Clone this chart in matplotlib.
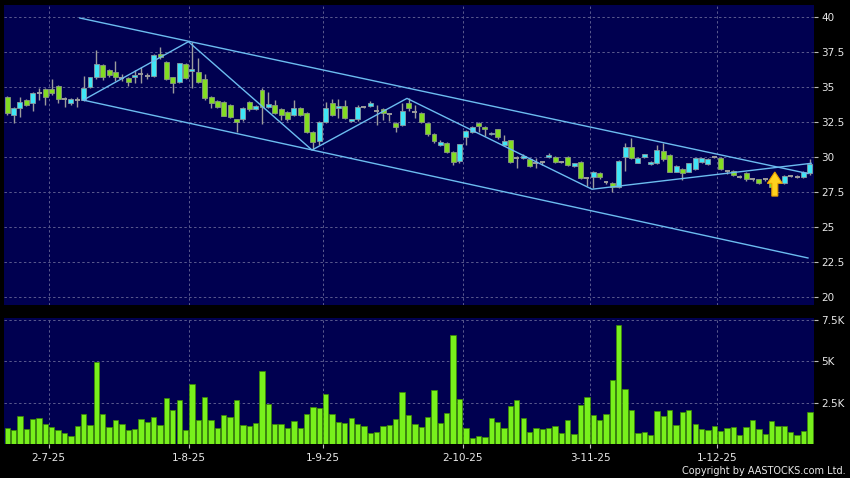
import matplotlib
matplotlib.use("Agg")
import matplotlib.pyplot as plt
from matplotlib.patches import Polygon
import numpy as np

# ---------------- data ----------------
opens = [34.26, 33.0, 33.48, 34.05, 33.84, 34.6, 34.84, 34.84, 35.1, 34.14,
         33.84, 34.1, 34.07, 34.98, 35.7, 36.55, 36.2, 36.05, 35.64, 35.67,
         35.71, 35.9, 35.8, 35.79, 37.33, 36.81, 35.7, 35.38, 36.62, 36.14,
         36.1, 35.6, 34.31, 34.02, 33.9, 33.72, 32.69, 32.69, 33.95, 33.42,
         34.77, 33.56, 33.74, 33.41, 33.24, 33.0, 33.52, 33.12, 31.81, 31.14,
         32.48, 33.84, 33.48, 33.67, 32.57, 32.69, 33.57, 33.62, 33.29, 33.43,
         33.07, 32.45, 32.29, 33.84, 33.19, 33.17, 32.41, 31.62, 30.86, 30.98,
         30.33, 29.71, 31.45, 31.81, 32.45, 32.16, 31.62, 31.98, 30.86, 31.21,
         29.95, 29.9, 29.86, 29.6, 29.62, 30.02, 29.98, 29.67, 29.98, 29.38,
         29.62, 28.52, 28.6, 28.83, 28.19, 28.17, 27.88, 29.98, 30.69, 29.6,
         30.02, 29.5, 29.55, 30.45, 30.14, 28.95, 29.12, 28.95, 29.12, 29.62,
         29.5, 30.02, 29.9, 29.02, 29.02, 28.6, 28.83, 28.4, 28.4, 28.4,
         28.24, 28.3, 28.12, 28.64, 28.6, 28.55, 28.83]
highs = [34.35, 33.6, 34.3, 34.12, 34.67, 34.95, 34.9, 35.57, 35.15, 34.3,
         34.2, 34.3, 35.8, 35.75, 37.64, 36.62, 36.3, 36.88, 35.9, 35.75,
         36.2, 36.4, 36.0, 37.35, 37.88, 36.85, 35.75, 36.75, 36.7, 38.24,
         37.05, 35.9, 34.35, 34.1, 34.0, 33.8, 32.75, 33.55, 34.0, 33.75,
         34.93, 34.62, 34.07, 33.5, 33.3, 34.07, 33.6, 33.2, 31.85, 32.55,
         33.9, 34.14, 34.14, 34.07, 32.75, 33.7, 33.65, 34.0, 33.7, 33.5,
         33.15, 32.5, 33.84, 34.2, 33.7, 33.25, 32.45, 31.7, 31.2, 31.05,
         30.4, 30.95, 31.95, 32.2, 32.5, 32.2, 31.8, 32.0, 31.6, 31.25,
         30.05, 30.2, 29.9, 29.9, 29.75, 30.3, 30.05, 29.75, 30.1, 29.6,
         29.7, 28.6, 29.0, 28.9, 28.3, 28.2, 29.8, 30.98, 31.33, 30.0,
         30.25, 29.7, 30.86, 30.98, 30.2, 29.45, 29.2, 29.6, 29.95, 29.95,
         29.9, 30.1, 30.0, 29.1, 29.1, 28.7, 28.9, 28.5, 28.45, 28.5,
         28.3, 28.4, 28.75, 28.7, 28.7, 29.0, 29.86]
lows = [33.0, 32.43, 32.86, 33.62, 33.3, 34.07, 33.7, 34.43, 33.83, 33.6,
        33.75, 33.55, 34.0, 34.9, 35.6, 35.5, 35.7, 35.45, 35.4, 35.1,
        35.3, 35.27, 35.6, 35.7, 37.0, 35.5, 34.55, 35.3, 35.6, 34.9,
        35.3, 34.1, 33.48, 33.5, 32.9, 32.76, 31.8, 32.6, 33.3, 33.35,
        32.36, 33.5, 33.05, 32.64, 32.55, 32.95, 32.9, 31.7, 30.5, 30.86,
        32.4, 32.95, 32.76, 32.75, 32.5, 32.6, 33.5, 33.55, 32.3, 32.65,
        32.57, 31.8, 32.2, 33.3, 32.8, 32.4, 31.5, 31.0, 30.8, 30.3,
        29.43, 29.6, 30.86, 31.75, 31.8, 31.5, 31.55, 31.3, 30.8, 29.55,
        29.2, 29.85, 29.3, 29.2, 29.4, 29.95, 29.55, 29.6, 29.35, 29.3,
        28.4, 27.9, 27.8, 28.4, 28.05, 27.52, 27.8, 29.0, 29.85, 29.55,
        29.95, 29.45, 29.5, 29.75, 28.9, 28.9, 28.36, 28.9, 29.05, 29.55,
        29.45, 29.9, 29.05, 28.8, 28.65, 28.5, 28.3, 28.3, 28.1, 28.3,
        27.8, 28.2, 28.05, 28.55, 28.5, 28.5, 28.75]
closes = [33.12, 33.52, 33.9, 33.7, 34.55, 34.6, 34.3, 34.55, 34.12, 34.14,
          34.14, 34.1, 34.9, 35.7, 36.64, 35.74, 35.84, 35.7, 35.64, 35.38,
          35.88, 35.9, 35.8, 37.29, 37.12, 35.55, 35.31, 36.69, 35.67, 36.31,
          35.38, 34.19, 33.88, 33.6, 32.95, 32.88, 32.5, 33.52, 33.4, 33.68,
          33.58, 33.76, 33.12, 33.0, 32.69, 33.52, 33.0, 31.81, 31.05, 32.48,
          33.52, 33.0, 33.67, 32.81, 32.69, 33.55, 33.57, 33.84, 33.29, 33.12,
          33.07, 32.16, 33.31, 33.48, 33.19, 32.48, 31.62, 31.14, 31.1, 30.38,
          29.62, 30.9, 31.88, 32.16, 32.21, 31.98, 31.74, 31.41, 31.14, 29.62,
          29.95, 30.1, 29.38, 29.6, 29.62, 30.14, 29.62, 29.67, 29.43, 29.55,
          28.48, 28.52, 28.95, 28.55, 28.19, 27.83, 29.74, 30.69, 29.9, 29.95,
          30.19, 29.62, 30.5, 29.83, 28.95, 29.36, 28.83, 29.55, 29.9, 29.9,
          29.83, 30.02, 29.12, 29.02, 28.71, 28.6, 28.4, 28.4, 28.17, 28.4,
          27.88, 28.3, 28.67, 28.64, 28.6, 28.95, 29.5]
volumes = [1000, 900, 1740, 980, 1560, 1640, 1280, 1060, 920, 700,
           560, 1120, 1840, 1180, 4960, 1860, 1080, 1520, 1260, 900,
           960, 1540, 1360, 1700, 1180, 2820, 2120, 2700, 920, 3640,
           1520, 2860, 1480, 1020, 1820, 1680, 2680, 1180, 1160, 1320,
           4400, 2460, 1260, 1240, 1020, 1440, 1020, 1860, 2260, 2240,
           3040, 1880, 1380, 1300, 1600, 1260, 1160, 740, 780, 1140,
           1180, 1560, 3200, 1800, 1260, 1100, 1680, 3280, 1300, 1920,
           6580, 2780, 1040, 420, 520, 480, 1620, 1400, 1020, 2360,
           2700, 1600, 780, 1020, 980, 1040, 1120, 700, 1500, 640,
           2420, 2880, 1800, 1500, 1860, 3900, 7200, 3380, 2100, 700,
           780, 580, 2020, 1760, 2080, 1200, 1980, 2100, 1260, 960,
           920, 1120, 840, 1020, 1060, 620, 1060, 1480, 940, 660,
           1440, 1140, 1160, 780, 600, 860, 1980]

date_labels = ["2-7-25", "1-8-25", "1-9-25", "2-10-25", "3-11-25", "1-12-25"]
date_index = [6, 28, 49, 71, 91, 111]

price_ticks = [20, 22.5, 25, 27.5, 30, 32.5, 35, 37.5, 40]
price_labels = ["20", "22.5", "25", "27.5", "30", "32.5", "35", "37.5", "40"]
vol_ticks = [2500, 5000, 7500]
vol_labels = ["2.5K", "5K", "7.5K"]

# trend / pattern lines (bar index, price)
upper_x = [11.4, 125.7]
upper_y = [39.93, 28.82]
lower_x = [11.9, 125.7]
lower_y = [34.07, 22.79]
zig_x = [11.95, 28.45, 47.85, 62.76, 91.8, 126.2]
zig_y = [34.07, 38.24, 30.5, 34.19, 27.7, 29.55]

# arrow marker
arrow_i = 120.5
arrow_tip = 28.93
arrow_head = 28.12
arrow_base = 27.21

# ---------------- style ----------------
BG = "#000000"
PANEL = "#000050"
GRID = "#5a5a8e"
CYAN = "#3fe6f6"
GREEN = "#82dc22"
WICK = "#9c9c9c"
VOL = "#78f01c"
LINE = "#6cbcf0"
TXT = "#e8e8e8"

W, H = 850, 478
fig = plt.figure(figsize=(W / 100, H / 100), dpi=100, facecolor=BG)

def fx(px):
    return px / W

def fy(py):
    return 1 - py / H

ax1 = fig.add_axes([fx(4), fy(305), fx(810), 300 / H], facecolor=PANEL)
ax2 = fig.add_axes([fx(4), fy(443.5), fx(810), 125.5 / H], facecolor=PANEL)

n = len(closes)
x = np.arange(n)
o = np.array(opens)
c = np.array(closes)
hi = np.array(highs)
lo = np.array(lows)

# candles
ax1.vlines(x, lo, hi, color=WICK, lw=1.0, zorder=3)
up = c > o
dn = c < o
dj = c == o
bw = 0.78
ax1.bar(x[up], (c - o)[up], bottom=o[up], width=bw, color=CYAN,
        edgecolor="#8a9aa0", lw=0.6, zorder=4)
ax1.bar(x[dn], (o - c)[dn], bottom=c[dn], width=bw, color=GREEN,
        edgecolor="#8a9a80", lw=0.6, zorder=4)
ax1.hlines(c[dj], x[dj] - bw / 2, x[dj] + bw / 2, color=WICK, lw=1.4, zorder=4)

# pattern lines
ax1.plot(upper_x, upper_y, color=LINE, lw=1.0, zorder=5)
ax1.plot(lower_x, lower_y, color=LINE, lw=1.0, zorder=5)
ax1.plot(zig_x, zig_y, color=LINE, lw=1.0, zorder=5)

# arrow
hw, sw = 1.18, 0.47
arrow = Polygon([[arrow_i, arrow_tip], [arrow_i + hw, arrow_head],
                 [arrow_i + sw, arrow_head], [arrow_i + sw, arrow_base],
                 [arrow_i - sw, arrow_base], [arrow_i - sw, arrow_head],
                 [arrow_i - hw, arrow_head]], closed=True,
                facecolor="#ffd21e", edgecolor="#e8a000", lw=0.8, zorder=6)
ax1.add_patch(arrow)

# volume
ax2.bar(x, volumes, width=0.84, color=VOL, edgecolor="#3c8a00", lw=0.5, zorder=3)

xl = (-0.5, 126.65)
grid_pos = [d + 0.5 for d in date_index]
for ax in (ax1, ax2):
    ax.set_xlim(*xl)
    for s in ax.spines.values():
        s.set_visible(False)
    for gp in grid_pos:
        ax.axvline(gp, color=GRID, lw=0.7, ls=(0, (2.5, 2.5)), zorder=1)

ax1.set_ylim(19.43, 40.86)
ax2.set_ylim(90, 7600)

for t in price_ticks:
    ax1.axhline(t, color=GRID, lw=0.7, ls=(0, (2.5, 2.5)), zorder=1)
for t in vol_ticks:
    ax2.axhline(t, color=GRID, lw=0.7, ls=(0, (2.5, 2.5)), zorder=1)

for ax, tks, lbs in ((ax1, price_ticks, price_labels), (ax2, vol_ticks, vol_labels)):
    ax.yaxis.tick_right()
    ax.set_yticks(tks)
    ax.set_yticklabels(lbs)
    ax.tick_params(axis="y", length=3, width=0.8, color="#bbbbbb", pad=2,
                   labelsize=7.5, labelcolor=TXT)

ax1.set_xticks([])
ax2.set_xticks(grid_pos)
ax2.set_xticklabels(date_labels)
ax2.tick_params(axis="x", length=3, width=0.8, color="#bbbbbb", pad=4,
                labelsize=7.5, labelcolor=TXT)

fig.text(fx(846), fy(471), "Copyright by AASTOCKS.com Ltd.", ha="right",
         va="center", color=TXT, fontsize=7)

fig.savefig("out.png", dpi=100, facecolor=BG)
